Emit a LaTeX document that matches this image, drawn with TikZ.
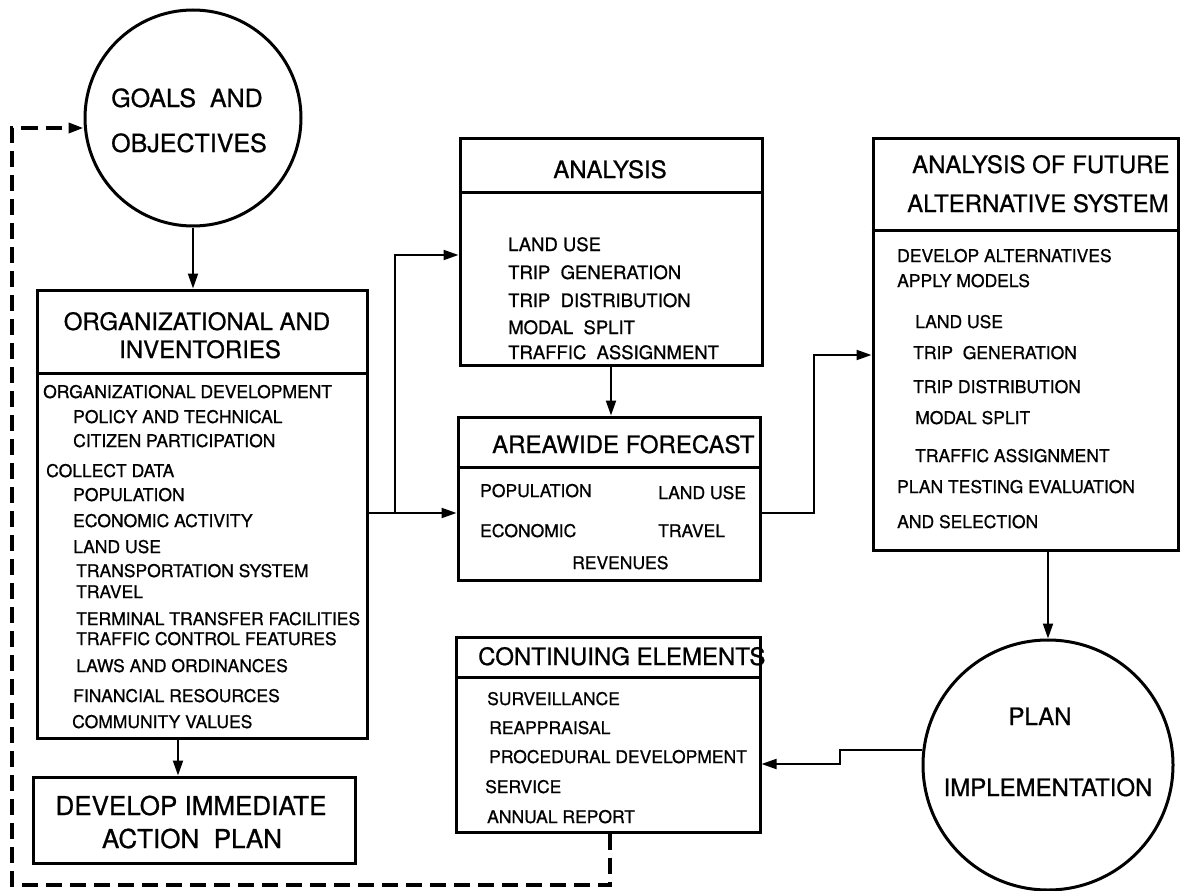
\documentclass[tikz,border=0pt]{standalone}
\usepackage{fontspec}
\setmainfont{TeX Gyre Heros}[FakeBold=0.8]
\usetikzlibrary{arrows.meta,calc}
\begin{document}
\begin{tikzpicture}[x=1pt,y=-1pt,
 box/.style={draw,line width=3pt,rectangle,inner sep=0pt},
 circ/.style={draw,line width=3pt,circle,inner sep=0pt},
 sepline/.style={line width=3pt},
 con/.style={line width=2pt,-{Triangle[length=15pt,width=10pt]}},
 fb/.style={line width=3.5pt,dash pattern=on 16pt off 8pt,-{Triangle[length=15pt,width=10pt]}},
 hd/.style={anchor=base,inner sep=0pt,font=\fontsize{24}{26}\selectfont},
 hdw/.style={anchor=base west,inner sep=0pt,font=\fontsize{24}{26}\selectfont},
 tx/.style={anchor=base west,inner sep=0pt,font=\fontsize{17.5}{20}\selectfont},
 txb/.style={anchor=base west,inner sep=0pt,font=\fontsize{18.5}{20}\selectfont},
]
\fill[white] (0,0) rectangle (1181,891);
\useasboundingbox (0,0) rectangle (1181,891);

% ---- shapes
\node[circ,minimum size=216pt] (goals) at (193,118) {};
\node[box,minimum width=330pt,minimum height=448pt] (org) at (202,514) {};
\node[box,minimum width=322pt,minimum height=86pt] (dev) at (194,820) {};
\node[box,minimum width=302pt,minimum height=227pt] (ana) at (611,251.5) {};
\node[box,minimum width=302pt,minimum height=163pt] (area) at (609,498.5) {};
\node[box,minimum width=305pt,minimum height=412pt] (fut) at (1025.5,344) {};
\node[box,minimum width=304pt,minimum height=195pt] (ce) at (608,734.5) {};
\node[circ,minimum size=250pt] (plan) at (1048,765) {};

% ---- header separators
\draw[sepline] (org.west |- 0,373) -- (org.east |- 0,373);
\draw[sepline] (ana.west |- 0,192) -- (ana.east |- 0,192);
\draw[sepline] (area.west |- 0,467) -- (area.east |- 0,467);
\draw[sepline] (fut.west |- 0,230) -- (fut.east |- 0,230);
\draw[sepline] (ce.west |- 0,677) -- (ce.east |- 0,677);

% ---- texts
\node[hd,font=\fontsize{25}{26}\selectfont] (g1) at (187,107) {GOALS\ \ AND};
\node[hd,font=\fontsize{25}{26}\selectfont] (g2) at (189,152) {OBJECTIVES};

\node[hd] (oh1) at (197,330) {ORGANIZATIONAL AND};
\node[hd] (oh2) at (200,358) {INVENTORIES};
\node[tx] (o1) at (43,398) {ORGANIZATIONAL DEVELOPMENT};
\node[tx] (o2) at (73,423) {POLICY AND TECHNICAL};
\node[tx] (o3) at (73,447) {CITIZEN PARTICIPATION};
\node[tx] (o4) at (46,477) {COLLECT DATA};
\node[tx] (o5) at (73,501) {POPULATION};
\node[tx] (o6) at (73,527) {ECONOMIC ACTIVITY};
\node[tx] (o7) at (73,553) {LAND USE};
\node[tx] (o8) at (76,577) {TRANSPORTATION SYSTEM};
\node[tx] (o9) at (76,598) {TRAVEL};
\node[tx] (o10) at (76,625) {TERMINAL TRANSFER FACILITIES};
\node[tx] (o11) at (76,645) {TRAFFIC CONTROL FEATURES};
\node[tx] (o12) at (76,672) {LAWS AND ORDINANCES};
\node[tx] (o13) at (73,702) {FINANCIAL RESOURCES};
\node[tx] (o14) at (72,728) {COMMUNITY VALUES};

\node[hd,font=\fontsize{26}{28}\selectfont] (d1t) at (191,815) {DEVELOP IMMEDIATE};
\node[hd,font=\fontsize{26}{28}\selectfont] (d2t) at (192,848) {ACTION\ \ PLAN};

\node[hd] (ah) at (610,178) {ANALYSIS};
\node[txb] (a1) at (508,251) {LAND USE};
\node[txb] (a2) at (508,279) {TRIP\ \ GENERATION};
\node[txb] (a3) at (508,307) {TRIP\ \ DISTRIBUTION};
\node[txb] (a4) at (508,334) {MODAL\ \ SPLIT};
\node[txb] (a5) at (508,359) {TRAFFIC\ \ ASSIGNMENT};

\node[hdw] (arh) at (492,453) {AREAWIDE FORECAST};
\node[tx] (ar1) at (480,497) {POPULATION};
\node[tx] (ar2) at (658,499) {LAND USE};
\node[tx] (ar3) at (480,537) {ECONOMIC};
\node[tx] (ar4) at (658,537) {TRAVEL};
\node[tx] (ar5) at (572,569) {REVENUES};

\node[hdw] (ceh) at (478,665) {CONTINUING ELEMENTS};
\node[tx] (c1) at (487,705) {SURVEILLANCE};
\node[tx] (c2) at (489,734) {REAPPRAISAL};
\node[tx] (c3) at (489,763) {PROCEDURAL DEVELOPMENT};
\node[tx] (c4) at (485,793) {SERVICE};
\node[tx] (c5) at (487,823) {ANNUAL REPORT};

\node[hdw] (fh1) at (912,173) {ANALYSIS OF FUTURE};
\node[hdw] (fh2) at (907,212) {ALTERNATIVE SYSTEM};
\node[tx] (f1) at (897,262) {DEVELOP ALTERNATIVES};
\node[tx] (f2) at (897,287) {APPLY MODELS};
\node[tx] (f3) at (915,328) {LAND USE};
\node[tx] (f4) at (913,359) {TRIP\ \ GENERATION};
\node[tx] (f5) at (913,393) {TRIP DISTRIBUTION};
\node[tx] (f6) at (915,424) {MODAL SPLIT};
\node[tx] (f7) at (915,462) {TRAFFIC ASSIGNMENT};
\node[tx] (f8) at (897,493) {PLAN TESTING EVALUATION};
\node[tx] (f9) at (897,528) {AND SELECTION};

\node[hd] (p1) at (1040,725) {PLAN};
\node[hd] (p2) at (1048,796) {IMPLEMENTATION};

% ---- connector points
\coordinate (j1) at (395,513);
\coordinate (j2) at (395,255);
\coordinate (k1) at (814,513);
\coordinate (k2) at (814,355);
\coordinate (m1) at (840,750);
\coordinate (m2) at (840,764);
\coordinate (q1) at (610,885);
\coordinate (q2) at (12,885);
\coordinate (q3) at (12,128);

% ---- connectors
\draw[con] (goals.south) -- (goals.south |- org.north);
\draw[con] ($(org.south)+(-24,0)$) -- ($(org.south |- dev.north)+(-24,0)$);
\draw[con] (org.east |- j1) -- (area.west |- j1);
\draw[con] (j1) -- (j2) -- (ana.west |- j2);
\draw[con] (ana.south) -- (ana.south |- area.north);
\draw[con] (area.east |- k1) -- (k1) -- (k2) -- (fut.west |- k2);
\draw[con] (plan.north |- fut.south) -- (plan.north);
\draw[con] (plan.west |- m1) -- (m1) -- (m2) -- (ce.east |- m2);
\draw[fb] (ce.south -| q1) -- (q1) -- (q2) -- (q3) -- (goals.west |- q3);
\end{tikzpicture}
\end{document}
